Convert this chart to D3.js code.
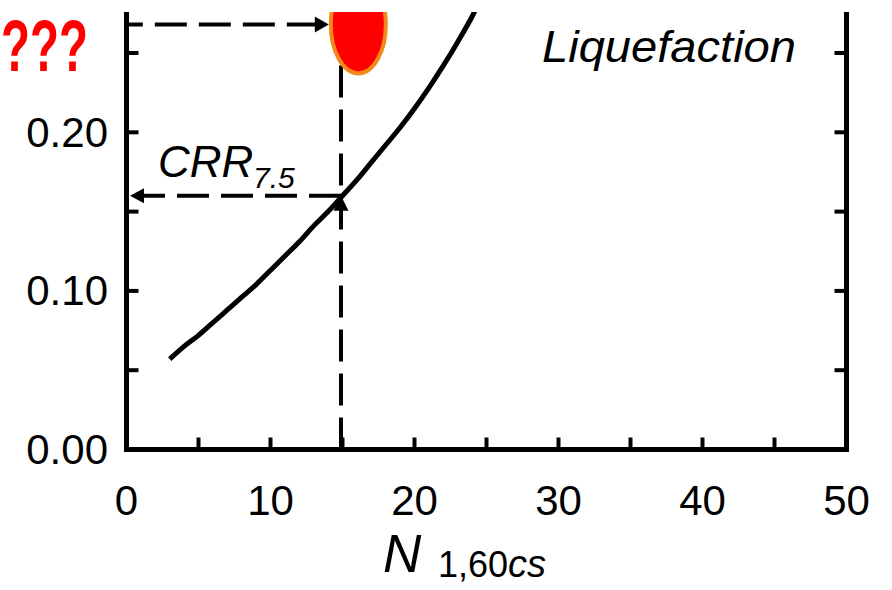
<!DOCTYPE html>
<html>
<head>
<meta charset="utf-8">
<script src="https://cdn.jsdelivr.net/npm/d3@7"></script>
<style>
  html, body { margin: 0; padding: 0; background: #fff; }
  svg { display: block; }
  text { font-family: "Liberation Sans", Arial, sans-serif; }
</style>
</head>
<body>
<svg id="chart" width="892" height="590"></svg>
<script>
// ---- data ----
const nValues   = [3, 4, 5, 6, 7, 8, 9, 10, 11, 12, 13, 14, 15, 16, 17, 18, 19, 20, 21, 22, 23, 24, 25];
const crrValues = [0.057, 0.065, 0.072, 0.080, 0.088, 0.096, 0.104, 0.113, 0.122, 0.131, 0.141, 0.150,
                   0.160, 0.170, 0.181, 0.192, 0.203, 0.215, 0.228, 0.242, 0.257, 0.273, 0.292];
const xTickLabels = [0, 10, 20, 30, 40, 50];
const xMinorTicks = [5, 10, 15, 20, 25, 30, 35, 40, 45];
const yTickLabels = [0.00, 0.10, 0.20];
const yMinorTicks = [0.05, 0.10, 0.15, 0.20, 0.25];
const readPoint   = [15, 0.16];      // N1,60cs and CRR7.5 read-off
const markerPoint = [16.1, 0.268];   // red ellipse (questioned point)

// ---- layout ----
const svg = d3.select("#chart");
const x = d3.scaleLinear().domain([0, 50]).range([126.5, 846.5]);
const y = d3.scaleLinear().domain([0, 0.25]).range([449.5, 53]);
const plotTop = 12;
const x0 = x(0), x1 = x(50), yB = y(0);

svg.append("defs").append("clipPath").attr("id", "plotClip")
  .append("rect").attr("x", x0).attr("y", plotTop).attr("width", x1 - x0).attr("height", yB - plotTop);

const g = svg.append("g").attr("clip-path", "url(#plotClip)");

// base curve
const line = d3.line().x((d, i) => x(nValues[i])).y(d => y(d)).curve(d3.curveMonotoneX);
g.append("path").datum(crrValues).attr("d", line)
  .attr("fill", "none").attr("stroke", "#000").attr("stroke-width", 5);

// vertical dashed line from the axis up to the marker
const xr = x(readPoint[0]) - 1.5, yr = y(readPoint[1]);
g.append("line").attr("x1", xr).attr("x2", xr).attr("y1", yB).attr("y2", y(markerPoint[1]))
  .attr("stroke", "#000").attr("stroke-width", 4).attr("stroke-dasharray", "32,12");
// up arrowhead at the curve
g.append("path").attr("d", `M${xr},${yr} L${xr - 7.5},${yr + 15} L${xr + 7.5},${yr + 15} Z`).attr("fill", "#000");

// horizontal dashed arrow from curve to axis
const tipL = x0 + 3.5;
g.append("line").attr("x1", xr).attr("x2", tipL + 13).attr("y1", yr).attr("y2", yr)
  .attr("stroke", "#000").attr("stroke-width", 4).attr("stroke-dasharray", "32,12");
g.append("path").attr("d", `M${tipL},${yr} L${tipL + 14},${yr - 7.5} L${tipL + 14},${yr + 7.5} Z`).attr("fill", "#000");

// marker ellipse and arrow to it
const mx = x(markerPoint[0]), my = y(markerPoint[1]);
const rx = 27.5, ry = 49;
const tipR = mx - rx - 2;
g.append("line").attr("x1", tipR - 10).attr("x2", x0 - 15).attr("y1", my).attr("y2", my)
  .attr("stroke", "#000").attr("stroke-width", 4).attr("stroke-dasharray", "32,12");
g.append("path").attr("d", `M${tipR},${my} L${tipR - 14},${my - 8} L${tipR - 14},${my + 8} Z`).attr("fill", "#000");
g.append("ellipse").attr("cx", mx).attr("cy", my).attr("rx", rx).attr("ry", ry)
  .attr("fill", "#ff0000").attr("stroke", "#f28a1a").attr("stroke-width", 4);

// ---- axes frame ----
svg.append("path").attr("d", `M${x0},${plotTop} L${x0},${yB} L${x1},${yB} L${x1},${plotTop}`)
  .attr("fill", "none").attr("stroke", "#000").attr("stroke-width", 5).attr("stroke-linejoin", "miter");

// ticks
svg.selectAll(".xt").data(xMinorTicks).join("line")
  .attr("x1", d => x(d)).attr("x2", d => x(d)).attr("y1", yB).attr("y2", yB - 12)
  .attr("stroke", "#000").attr("stroke-width", 4);
svg.selectAll(".ytl").data(yMinorTicks).join("line")
  .attr("x1", x0).attr("x2", x0 + 12).attr("y1", d => y(d)).attr("y2", d => y(d))
  .attr("stroke", "#000").attr("stroke-width", 4);
svg.selectAll(".ytr").data(yMinorTicks).join("line")
  .attr("x1", x1).attr("x2", x1 - 12).attr("y1", d => y(d)).attr("y2", d => y(d))
  .attr("stroke", "#000").attr("stroke-width", 4);

// tick labels
svg.selectAll(".xl").data(xTickLabels).join("text")
  .attr("x", d => x(d)).attr("y", 515).attr("text-anchor", "middle")
  .attr("font-size", 42).attr("fill", "#000").text(d => d);
svg.selectAll(".yl").data(yTickLabels).join("text")
  .attr("x", 108).attr("y", d => y(d) + 14.5).attr("text-anchor", "end")
  .attr("font-size", 42).attr("fill", "#000").text(d => d3.format(".2f")(d));

// x axis title
const xt = svg.append("text").attr("x", 383).attr("y", 572).attr("fill", "#000");
xt.append("tspan").attr("font-size", 53).attr("font-style", "italic").text("N");
xt.append("tspan").attr("x", 438).attr("y", 577).attr("font-size", 36).text("1,60");
xt.append("tspan").attr("font-size", 38).attr("font-style", "italic").text("cs");

// CRR label
const ct = svg.append("text").attr("x", 158).attr("y", 177).attr("fill", "#000").attr("font-style", "italic");
ct.append("tspan").attr("font-size", 44).text("CRR");
ct.append("tspan").attr("x", 253).attr("y", 188).attr("font-size", 30).text("7.5");

// Liquefaction
svg.append("text").attr("x", 542).attr("y", 62)
  .attr("font-family", "Lato, 'Open Sans', sans-serif").attr("font-style", "italic")
  .attr("font-size", 44).attr("fill", "#000")
  .attr("textLength", 254).attr("lengthAdjust", "spacingAndGlyphs").text("Liquefaction");

// red question marks
svg.append("text").attr("x", 1).attr("y", 71)
  .attr("font-size", 72).attr("font-weight", "bold").attr("fill", "#ff0000")
  .attr("textLength", 87).attr("lengthAdjust", "spacingAndGlyphs").text("???");
</script>
</body>
</html>
